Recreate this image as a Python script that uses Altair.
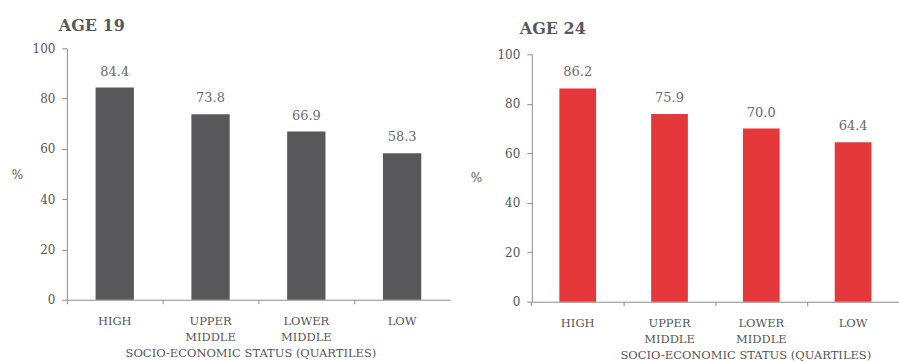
import altair as alt
import pandas as pd

categories = ["HIGH", "UPPER MIDDLE", "LOWER MIDDLE", "LOW"]
age19 = [84.4, 73.8, 66.9, 58.3]
age24 = [86.2, 75.9, 70.0, 64.4]
y_ticks = [0, 20, 40, 60, 80, 100]

FONT = "DejaVu Serif"
TEXT = "#555557"
AXIS = "#8c8c8c"


def panel(values, title, color, width, height, y_range, title_dx, title_offset,
          pct_x, xtitle_x):
    df = pd.DataFrame({"ses": categories, "pct": values})
    base = alt.Chart(df).encode(
        x=alt.X(
            "ses:N",
            sort=categories,
            scale=alt.Scale(paddingInner=0.6, paddingOuter=0.3),
            axis=alt.Axis(
                title="SOCIO-ECONOMIC STATUS (QUARTILES)",
                titleX=xtitle_x,
                titleY=57,
                titleBaseline="alphabetic",
                titleFont=FONT,
                titleFontSize=11.5,
                titleFontWeight="normal",
                titleColor=TEXT,
                labelAngle=0,
                labelExpr="split(datum.label, ' ')",
                labelFont=FONT,
                labelFontSize=11.5,
                labelColor=TEXT,
                labelLineHeight=16,
                labelPadding=12,
                labelBaseline="top",
                bandPosition=-0.75,
                tickSize=4,
                tickColor=AXIS,
                domainColor=AXIS,
            ),
        ),
        y=alt.Y(
            "pct:Q",
            scale=alt.Scale(domain=[0, 100], range=y_range, nice=False),
            axis=alt.Axis(
                values=y_ticks,
                title="%",
                titleAngle=0,
                titleAlign="center",
                titleBaseline="middle",
                titleX=pct_x,
                titleY=(y_range[0] + y_range[1]) / 2,
                titleFont=FONT,
                titleFontSize=12,
                titleFontWeight="normal",
                titleColor=TEXT,
                labelFont=FONT,
                labelFontSize=12,
                labelColor=TEXT,
                labelPadding=7,
                tickSize=5,
                tickColor=AXIS,
                domainColor=AXIS,
                grid=False,
            ),
        ),
    )
    bars = base.mark_bar(color=color)
    labels = base.mark_text(
        dy=-12, font=FONT, fontSize=13, color="#6a6a6a", baseline="alphabetic"
    ).encode(text=alt.Text("pct:Q", format=".1f"))
    return (bars + labels).properties(
        width=width,
        height=height,
        title=alt.TitleParams(
            title,
            anchor="start",
            frame="group",
            dx=title_dx,
            offset=title_offset,
            font=FONT,
            fontSize=16,
            fontWeight="bold",
            color="#58585a",
        ),
    )


left = panel(age19, "AGE 19", "#58585a", 384, 252, [252, 0], -8, 8.5, -50, 184)
right = panel(age24, "AGE 24", "#e5383b", 368, 254, [254, 6], -12, 11, -56, 214)

chart = (
    alt.hconcat(left, right, spacing=20)
    .properties(padding={"left": 11, "top": 17, "right": 0, "bottom": 0})
    .configure_view(stroke=None)
)

chart.save("out.html", embed_options={"renderer": "svg", "actions": False})
